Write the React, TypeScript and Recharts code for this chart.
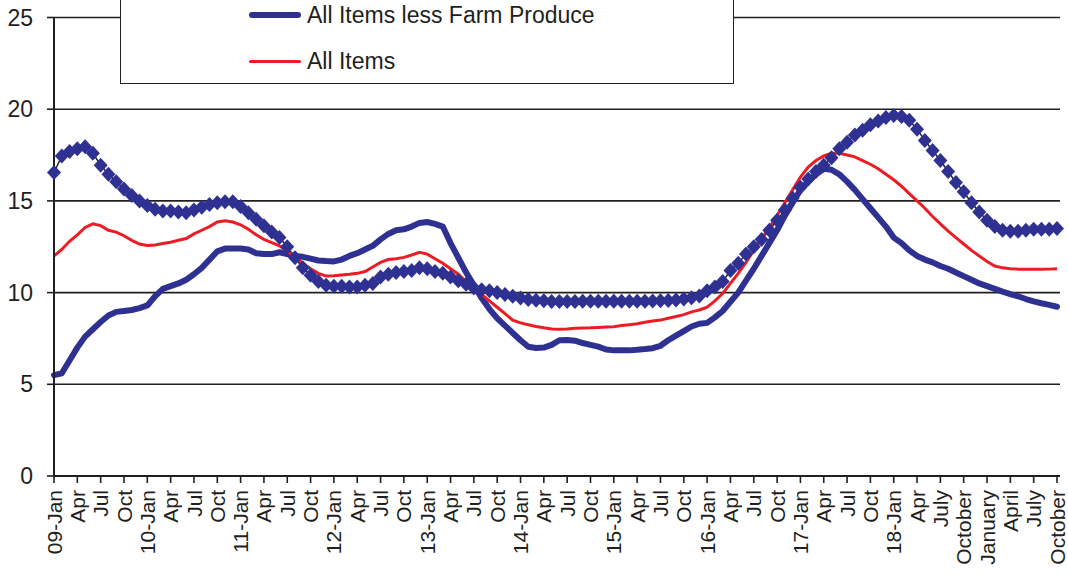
import { LineChart, Line, XAxis, YAxis, CartesianGrid, Legend } from 'recharts'

// one label every third month, Jan 2009 .. Oct 2019
const tickLabels = [
  '09-Jan', 'Apr', 'Jul', 'Oct',
  '10-Jan', 'Apr', 'Jul', 'Oct',
  '11-Jan', 'Apr', 'Jul', 'Oct',
  '12-Jan', 'Apr', 'Jul', 'Oct',
  '13-Jan', 'Apr', 'Jul', 'Oct',
  '14-Jan', 'Apr', 'Jul', 'Oct',
  '15-Jan', 'Apr', 'Jul', 'Oct',
  '16-Jan', 'Apr', 'Jul', 'Oct',
  '17-Jan', 'Apr', 'Jul', 'Oct',
  '18-Jan', 'Apr', 'July', 'October',
  'January', 'April', 'July', 'October',
]

const yTicks = [0, 5, 10, 15, 20, 25]

// monthly values, Jan 2009 .. Oct 2019
const lessFarm = [
  5.5, 5.6, 6.3, 7.0, 7.6, 8.0, 8.4, 8.75, 8.95, 9.0, 9.05, 9.15,
  9.3, 9.8, 10.2, 10.35, 10.5, 10.7, 11.0, 11.35, 11.8, 12.25, 12.4, 12.4,
  12.4, 12.35, 12.15, 12.1, 12.1, 12.2, 12.1, 12.0, 11.95, 11.85, 11.75, 11.72,
  11.7, 11.8, 12.0, 12.15, 12.35, 12.55, 12.9, 13.2, 13.4, 13.45, 13.6, 13.8,
  13.85, 13.75, 13.6, 12.7, 11.9, 11.1, 10.4, 9.7, 9.1, 8.6, 8.2, 7.8,
  7.4, 7.05, 6.98, 7.0, 7.15, 7.4, 7.42, 7.38, 7.25, 7.15, 7.05, 6.9,
  6.85, 6.85, 6.85, 6.88, 6.92, 6.97, 7.1, 7.4, 7.65, 7.9, 8.15, 8.3,
  8.35, 8.65, 9.0, 9.5, 10.0, 10.65, 11.3, 12.0, 12.7, 13.4, 14.2, 14.9,
  15.6, 16.05, 16.45, 16.75, 16.7, 16.45, 16.05, 15.6, 15.1, 14.6, 14.1, 13.6,
  13.0, 12.7, 12.3, 12.0, 11.8, 11.65, 11.45, 11.3, 11.1, 10.9, 10.7, 10.5,
  10.35, 10.2, 10.05, 9.92, 9.8, 9.65, 9.52, 9.42, 9.33, 9.23,
]

const farmProduce = [
  16.55, 17.45, 17.7, 17.85, 17.95, 17.6, 16.95, 16.45, 16.05, 15.65, 15.3, 15.0,
  14.75, 14.55, 14.45, 14.45, 14.4, 14.35, 14.5, 14.65, 14.8, 14.9, 14.95, 14.95,
  14.7, 14.35, 14.0, 13.65, 13.3, 13.0, 12.5, 11.9, 11.35, 10.95, 10.6, 10.4,
  10.35, 10.35, 10.3, 10.3, 10.4, 10.5, 10.85, 11.0, 11.1, 11.15, 11.2, 11.35,
  11.3, 11.15, 11.05, 10.85, 10.65, 10.45, 10.25, 10.15, 10.1, 10.0, 9.9, 9.8,
  9.7, 9.62, 9.58, 9.55, 9.52, 9.52, 9.52, 9.52, 9.53, 9.53, 9.53, 9.53,
  9.53, 9.53, 9.53, 9.53, 9.53, 9.54, 9.55, 9.57, 9.6, 9.65, 9.72, 9.82,
  10.1, 10.3, 10.6, 11.2, 11.6, 12.1, 12.5, 12.9, 13.4, 13.95, 14.5, 15.15,
  15.75, 16.2, 16.6, 16.95, 17.35, 17.85, 18.2, 18.6, 18.85, 19.15, 19.35, 19.55,
  19.65, 19.6, 19.4, 18.9, 18.3, 17.75, 17.2, 16.6, 16.0, 15.5, 14.9, 14.4,
  13.95, 13.6, 13.4, 13.35, 13.35, 13.4, 13.45, 13.45, 13.45, 13.5,
]

const allItems = [
  12.0, 12.35, 12.8, 13.15, 13.55, 13.75, 13.65, 13.4, 13.3, 13.1, 12.85, 12.65,
  12.57, 12.6, 12.68, 12.75, 12.85, 12.95, 13.2, 13.4, 13.6, 13.85, 13.92, 13.85,
  13.7, 13.45, 13.15, 12.9, 12.72, 12.55, 12.25, 11.95, 11.6, 11.3, 11.05, 10.9,
  10.92, 10.96, 11.0, 11.05, 11.15, 11.4, 11.65, 11.8, 11.85, 11.92, 12.05, 12.2,
  12.1, 11.85, 11.6, 11.3, 11.0, 10.6, 10.25, 9.9, 9.55, 9.2, 8.85, 8.5,
  8.35, 8.25, 8.15, 8.08, 8.02, 8.0, 8.02, 8.05, 8.07, 8.08, 8.1, 8.12,
  8.14, 8.2, 8.25, 8.3, 8.38, 8.45, 8.5, 8.6, 8.7, 8.8, 8.95, 9.05,
  9.2, 9.55, 9.95, 10.5, 11.05, 11.65, 12.3, 12.95, 13.55, 14.2, 14.9, 15.6,
  16.3, 16.85, 17.2, 17.45, 17.6, 17.6, 17.5, 17.4, 17.2, 17.0, 16.75, 16.45,
  16.15, 15.8, 15.4, 15.0, 14.6, 14.15, 13.75, 13.35, 13.0, 12.65, 12.3, 12.0,
  11.7, 11.45, 11.35, 11.3, 11.28, 11.28, 11.27, 11.27, 11.28, 11.3,
]

const data = lessFarm.map((v, i) => ({
  i,
  lessFarm: v,
  farm: farmProduce[i],
  all: allItems[i],
}))

const INK = '#231f20'
const BLUE = '#2e3192'
const RED = '#ed1c24'
const FONT = '"Liberation Sans", Arial, sans-serif'

function MonthTick(props: any) {
  const { x, y, payload } = props
  const label = tickLabels[Math.round(payload.value / 3)]
  const ty = y + 7
  return (
    <text
      x={x}
      y={ty}
      transform={`rotate(-90 ${x} ${ty})`}
      textAnchor="end"
      dy="0.36em"
      fontSize={21}
      fontFamily={FONT}
      fill={INK}
    >
      {label}
    </text>
  )
}

function Diamond(props: any) {
  const { cx, cy, index } = props
  if (cx == null || cy == null) return null
  const w = 7
  const h = 7.5
  return (
    <polygon
      key={`d-${index}`}
      points={`${cx},${cy - h} ${cx + w},${cy} ${cx},${cy + h} ${cx - w},${cy}`}
      fill={BLUE}
    />
  )
}

function LegendBox() {
  const row = (top: number, color: string, width: number, text: string) => (
    <div style={{ position: 'absolute', left: 128, top, height: 28, display: 'flex', alignItems: 'center' }}>
      <div style={{ width: 52, height: width, background: color, borderRadius: width / 2 }} />
      <span style={{ marginLeft: 6, fontSize: 23, fontFamily: FONT, color: INK, whiteSpace: 'nowrap' }}>{text}</span>
    </div>
  )
  return (
    <div
      style={{
        position: 'relative',
        width: 614,
        height: 88,
        boxSizing: 'border-box',
        border: `1.5px solid ${INK}`,
        background: '#fff',
      }}
    >
      {row(4, BLUE, 6, 'All Items less Farm Produce')}
      {row(50, RED, 3, 'All Items')}
    </div>
  )
}

export default function App() {
  return (
    <div style={{ width: 1068, height: 577, background: '#fff' }}>
      <style>{`body { margin: 0; background: #fff; }`}</style>
      <LineChart width={1068} height={577} data={data} margin={{ top: 17.5, right: 8, left: 0, bottom: 0 }}>
        <CartesianGrid horizontal vertical={false} stroke={INK} strokeWidth={1.6} />
        <XAxis
          dataKey="i"
          type="category"
          interval={2}
          height={101}
          padding={{ left: 0, right: 3 }}
          tickSize={7}
          tickMargin={0}
          tick={<MonthTick />}
          axisLine={{ stroke: INK, strokeWidth: 2 }}
          tickLine={{ stroke: INK, strokeWidth: 1.6 }}
        />
        <YAxis
          domain={[0, 25]}
          ticks={yTicks}
          width={54}
          tickSize={7}
          tickMargin={14}
          tick={{ fontSize: 23, fontFamily: FONT, fill: INK }}
          axisLine={{ stroke: INK, strokeWidth: 2 }}
          tickLine={{ stroke: INK, strokeWidth: 1.6 }}
        />
        <YAxis
          yAxisId="right"
          orientation="right"
          domain={[0, 25]}
          width={0}
          tick={false}
          tickLine={false}
          axisLine={{ stroke: INK, strokeWidth: 2 }}
        />
        <Legend
          layout="horizontal"
          verticalAlign="middle"
          align="center"
          content={<LegendBox />}
          wrapperStyle={{ left: 120, top: -4, width: 614, height: 88 }}
        />
        <Line
          dataKey="farm"
          stroke={INK}
          strokeWidth={1.5}
          dot={<Diamond />}
          activeDot={false}
          legendType="none"
          isAnimationActive={false}
        />
        <Line
          dataKey="lessFarm"
          stroke={BLUE}
          strokeWidth={6}
          strokeLinejoin="round"
          strokeLinecap="round"
          dot={false}
          activeDot={false}
          isAnimationActive={false}
        />
        <Line
          dataKey="all"
          stroke={RED}
          strokeWidth={3}
          dot={false}
          activeDot={false}
          isAnimationActive={false}
        />
      </LineChart>
    </div>
  )
}
